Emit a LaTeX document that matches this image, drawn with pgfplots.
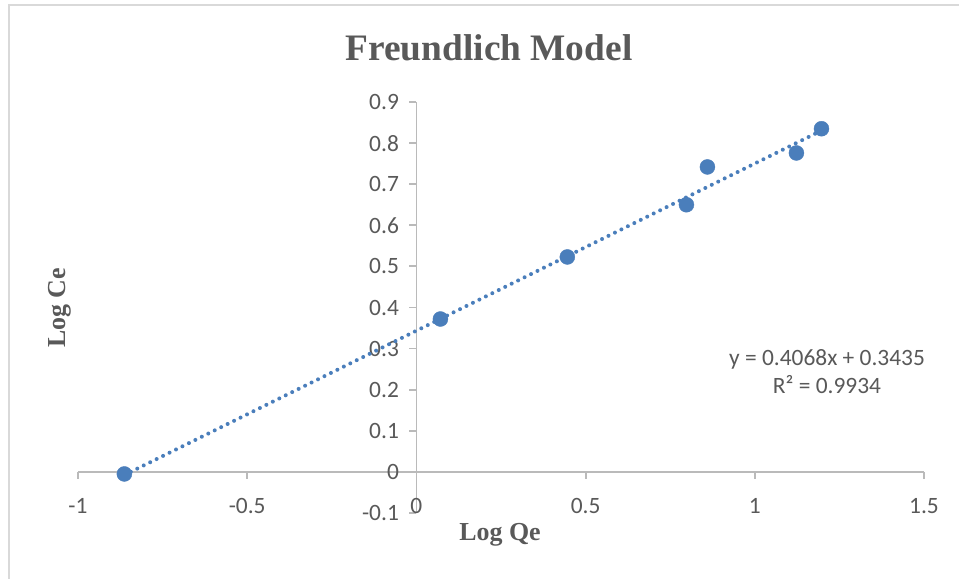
\documentclass[border=0pt]{standalone}
\usepackage{fontspec}
\setmainfont{Liberation Serif}
\newfontfamily\carlito{Carlito}
\usepackage{pgfplots}
\pgfplotsset{compat=1.18}
\definecolor{ptblue}{RGB}{74,126,187}
\definecolor{axgray}{RGB}{186,186,186}
\definecolor{txtgray}{RGB}{89,89,89}
\definecolor{framegray}{RGB}{217,217,217}
\begin{document}
\begin{tikzpicture}
\path[use as bounding box] (0,0) rectangle (959bp,579bp);
\fill[white] (0,0) rectangle (959bp,579bp);
\draw[framegray,line width=2bp] (8.5bp,0) -- (8.5bp,573.5bp) -- (959bp,573.5bp);
\begin{axis}[
  at={(78bp,66bp)}, anchor=south west,
  scale only axis, width=846bp, height=411bp,
  xmin=-1, xmax=1.5, ymin=-0.1, ymax=0.9,
  axis lines=middle,
  axis line style={-, axgray, line width=1.8bp},
  hide obscured x ticks=false, hide obscured y ticks=false,
  xtick={-1,-0.5,0,0.5,1,1.5},
  xticklabels={-1,-0.5,0,0.5,1,1.5},
  ytick={-0.1,0,0.1,0.2,0.3,0.4,0.5,0.6,0.7,0.8,0.9},
  yticklabels={-0.1,0,0.1,0.2,0.3,0.4,0.5,0.6,0.7,0.8,0.9},
  tick align=outside,
  major tick length=7bp,
  tick style={axgray, line width=1.8bp},
  ticklabel style={font=\carlito\fontsize{23.5}{26}\selectfont, text=txtgray},
  xticklabel style={yshift=-16bp},
  yticklabel style={xshift=-7bp},
  clip=false,
]
\addplot[ptblue, line width=4bp, line cap=round, dash pattern=on 0bp off 7.2bp, domain=-0.863:1.197, samples=2] {0.4068*x+0.3435};
\addplot[only marks, mark=*, mark size=7.5bp, mark options={fill=ptblue, draw=ptblue}] coordinates {
  (-0.863,-0.005) (0.071,0.372) (0.446,0.523) (0.798,0.650) (0.860,0.742) (1.123,0.776) (1.197,0.835)
};
\end{axis}
\node[text=txtgray, font=\bfseries\fontsize{37.5}{40}\selectfont] at (489bp,531bp) {Freundlich Model};
\node[text=txtgray, font=\bfseries\fontsize{26}{30}\selectfont] at (500bp,44bp) {Log Qe};
\node[text=txtgray, font=\bfseries\fontsize{26}{30}\selectfont, rotate=90] at (60bp,271bp) {Log Ce};
\node[text=txtgray, font=\carlito\fontsize{23.5}{28}\selectfont, align=center] at (827bp,207bp) {y = 0.4068x + 0.3435\\R² = 0.9934};
\end{tikzpicture}
\end{document}
